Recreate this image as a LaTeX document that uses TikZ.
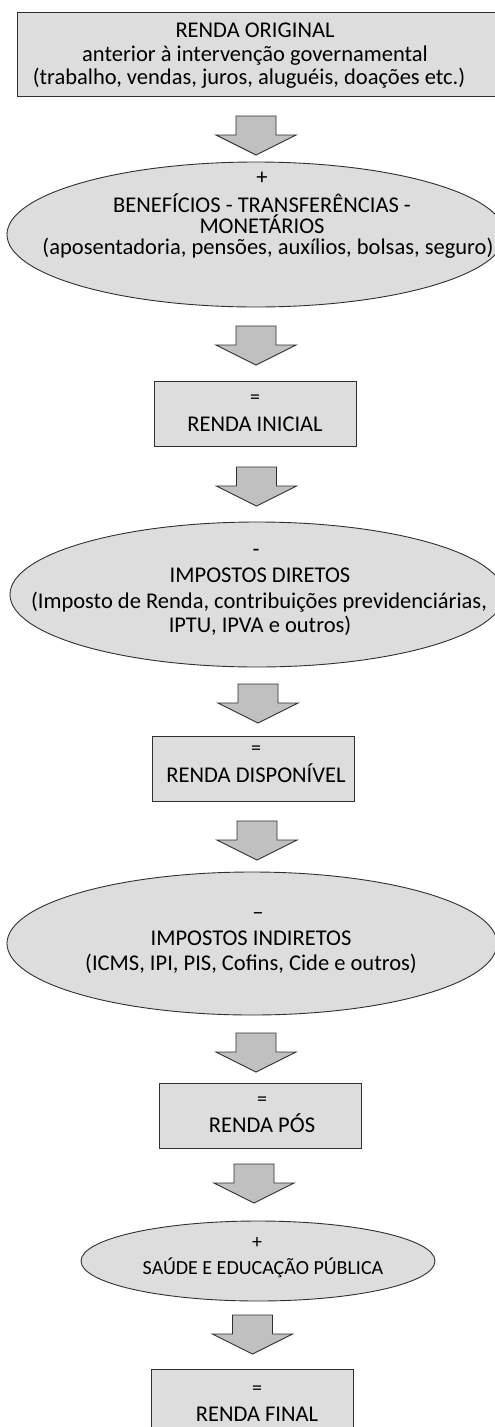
\documentclass[tikz,border=0pt]{standalone}
\usepackage{fontspec}
\setmainfont{Carlito}
\usetikzlibrary{shapes.geometric}
\definecolor{boxgray}{HTML}{DDDDDD}
\definecolor{arrgray}{HTML}{C0C0C0}
\definecolor{edge}{HTML}{303030}
\tikzset{
  boxshape/.style={draw=edge, fill=boxgray, line width=0.9pt, rectangle, inner sep=0pt},
  ellshape/.style={draw=edge, fill=boxgray, line width=0.9pt, ellipse, inner sep=0pt},
  txt/.style={anchor=base, inner sep=0pt, font=\fontsize{22.5}{26}\selectfont},
  txts/.style={anchor=base, inner sep=0pt, font=\fontsize{20}{23}\selectfont},
  blockarrow/.pic={\draw[draw=edge, fill=arrgray, line width=0.9pt]
     (-20,0) -- (20,0) -- (20,19) -- (40,19) -- (0,39) -- (-40,19) -- (-20,19) -- cycle;}
}
\begin{document}
\begin{tikzpicture}[x=1pt, y=-1pt]
\useasboundingbox[fill=white] (0,0) rectangle (495,1427);
% box 1
\node[boxshape, minimum width=490pt, minimum height=84pt] (b1) at (262,54) {};
\node[txt] (t1a) at (255,37.7) {RENDA ORIGINAL};
\node[txt] (t1b) at (255,61) {anterior à intervenção governamental};
\node[txt] (t1c) at (249,84.5) {(trabalho, vendas, juros, aluguéis, doações etc.)};
\pic (a1) at (256,116) {blockarrow};
% ellipse 1
\node[ellshape, minimum width=498pt, minimum height=145pt] (e1) at (256,234.5) {};
\node[txt] (t2a) at (262,184) {+};
\node[txt] (t2b) at (262,212) {BENEFÍCIOS - TRANSFERÊNCIAS -};
\node[txt] (t2c) at (262,233.5) {MONETÁRIOS};
\node[txt] (t2d) at (268,254) {(aposentadoria, pensões, auxílios, bolsas, seguro)};
\pic (a2) at (256,326) {blockarrow};
% box 2
\node[boxshape, minimum width=202pt, minimum height=65pt] (b2) at (255,413.5) {};
\node[txts] (t3a) at (255,403) {=};
\node[txt] (t3b) at (255,431) {RENDA INICIAL};
\pic (a3) at (256.5,467) {blockarrow};
% ellipse 2
\node[ellshape, minimum width=494pt, minimum height=145pt] (e2) at (257,594.5) {};
\node[txt] (t4a) at (256,556) {-};
\node[txt] (t4b) at (260,582) {IMPOSTOS DIRETOS};
\node[txt] (t4c) at (259,608) {(Imposto de Renda, contribuições previdenciárias,};
\node[txt] (t4d) at (260,632) {IPTU, IPVA e outros)};
\pic (a4) at (258,684) {blockarrow};
% box 3
\node[boxshape, minimum width=202pt, minimum height=65pt] (b3) at (253,768.5) {};
\node[txts] (t5a) at (256,754) {=};
\node[txt] (t5b) at (256,782) {RENDA DISPONÍVEL};
\pic (a5) at (257,821) {blockarrow};
% ellipse 3
\node[ellshape, minimum width=490pt, minimum height=143pt] (e3) at (252,943.5) {};
\node[txt] (t6a) at (258,919) {–};
\node[txt] (t6b) at (251,945) {IMPOSTOS INDIRETOS};
\node[txt] (t6c) at (251,970) {(ICMS, IPI, PIS, Cofins, Cide e outros)};
\pic (a6) at (256,1033) {blockarrow};
% box 4
\node[boxshape, minimum width=202pt, minimum height=65pt] (b4) at (260,1115.5) {};
\node[txts] (t7a) at (262,1105) {=};
\node[txt] (t7b) at (262,1132) {RENDA PÓS};
\pic (a7) at (254,1164) {blockarrow};
% ellipse 4
\node[ellshape, minimum width=354pt, minimum height=80pt] (e4) at (258,1261) {};
\node[txts] (t8a) at (257,1248) {+};
\node[txts] (t8b) at (263,1274) {SAÚDE E EDUCAÇÃO PÚBLICA};
\pic (a8) at (252.5,1315) {blockarrow};
% box 5
\node[boxshape, minimum width=202pt, minimum height=65pt] (b5) at (252,1401.5) {};
\node[txts] (t9a) at (257,1394) {=};
\node[txt] (t9b) at (257,1421) {RENDA FINAL};
\end{tikzpicture}
\end{document}
